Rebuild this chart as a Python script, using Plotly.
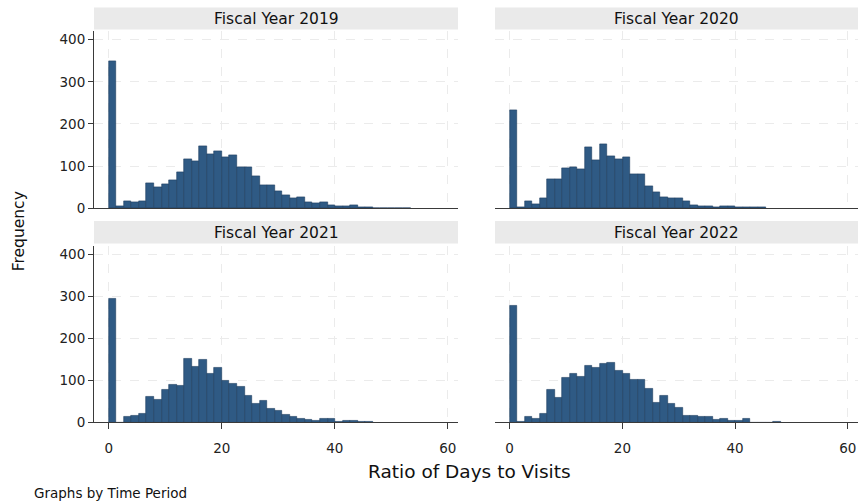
import plotly.graph_objects as go

# Histogram bins: common start and width for all four panels
bin_start = 0.0
bin_width = 1.335

panel_titles = ["Fiscal Year 2019", "Fiscal Year 2020", "Fiscal Year 2021", "Fiscal Year 2022"]

fy2019 = [348, 4, 16, 14, 18, 59, 51, 58, 66, 85, 116, 112, 147, 128, 135, 121, 127, 98, 98, 76,
          56, 56, 41, 30, 23, 26, 15, 12, 14, 8, 5, 5, 7, 3, 2, 0, 0, 1, 1, 1]
fy2020 = [233, 3, 16, 9, 24, 69, 69, 95, 98, 92, 145, 114, 151, 124, 117, 121, 82, 82, 53, 38,
          26, 23, 23, 18, 8, 5, 5, 3, 5, 5, 2, 2, 2, 2]
fy2021 = [295, 0, 13, 17, 20, 61, 55, 78, 90, 87, 152, 132, 150, 116, 130, 99, 91, 84, 64, 45,
          51, 32, 29, 19, 13, 9, 6, 5, 9, 9, 2, 5, 4, 2, 2]
fy2022 = [278, 2, 14, 10, 21, 79, 58, 106, 115, 109, 134, 129, 139, 141, 124, 116, 102, 102, 80, 47,
          63, 45, 34, 16, 17, 13, 13, 7, 9, 3, 3, 9, 0, 0, 0, 2]

x_ticks = [0, 20, 40, 60]
y_ticks = [0, 100, 200, 300, 400]

W, H = 859, 503
bar_fill = "#2f5a84"
bar_edge = "#1d3d5e"
grid_col = "#ebebeb"
axis_col = "#3a3a3a"
font_family = "DejaVu Sans, Liberation Sans, Arial, sans-serif"

# panel layout in pixels: (left, right, top-of-plot, baseline, strip top, strip bottom)
panels = [
    (94, 458, 31.7, 211.7, 7.5, 30),
    (495, 858, 31.7, 211.7, 7.5, 30),
    (94, 458, 249.7, 429.3, 224.5, 247.5),
    (495, 858, 249.7, 429.3, 224.5, 247.5),
]
series = [fy2019, fy2020, fy2021, fy2022]

fig = go.Figure()
shapes = []
annotations = []

for i, (counts, (l, r, t, b, st, sb)) in enumerate(zip(series, panels)):
    n = i + 1
    xa = "x" if n == 1 else f"x{n}"
    ya = "y" if n == 1 else f"y{n}"
    centers = [bin_start + (k + 0.5) * bin_width for k in range(len(counts))]
    fig.add_trace(go.Bar(
        x=centers, y=counts, width=bin_width,
        marker=dict(color=bar_fill, line=dict(color=bar_edge, width=0.6)),
        xaxis=xa, yaxis=ya, showlegend=False,
    ))
    left_col = n in (1, 3)
    bottom_row = n in (3, 4)
    xkey = "xaxis" if n == 1 else f"xaxis{n}"
    ykey = "yaxis" if n == 1 else f"yaxis{n}"
    fig.layout[xkey] = dict(
        domain=[l / W, r / W], anchor=ya, range=[-2.6, 61.8],
        tickvals=x_ticks, showticklabels=bottom_row,
        ticks="outside" if bottom_row else "", ticklen=6, tickcolor=axis_col,
        ticklabelstandoff=7,
        showline=True, linecolor=axis_col, linewidth=1,
        showgrid=True, gridcolor=grid_col, griddash="dash", gridwidth=1,
        zeroline=False, fixedrange=True,
        tickfont=dict(size=13.5, color="#222", family=font_family),
    )
    fig.layout[ykey] = dict(
        domain=[(H - b) / H, (H - t) / H], anchor=xa, range=[0, 420],
        tickvals=y_ticks, showticklabels=left_col,
        ticks="outside" if left_col else "", ticklen=5, tickcolor=axis_col,
        showline=left_col, linecolor=axis_col, linewidth=1,
        showgrid=True, gridcolor=grid_col, griddash="dash", gridwidth=1,
        zeroline=False, fixedrange=True,
        tickfont=dict(size=13.5, color="#222", family=font_family),
    )
    # panel strip header
    shapes.append(dict(type="rect", xref="paper", yref="paper",
                       x0=l / W, x1=r / W, y0=(H - sb) / H, y1=(H - st) / H,
                       fillcolor="#eaeaea", line=dict(width=0), layer="below"))
    annotations.append(dict(text=panel_titles[i], xref="paper", yref="paper",
                            x=(l + r) / 2 / W, y=(H - (st + sb) / 2 - 1) / H,
                            showarrow=False, xanchor="center", yanchor="middle",
                            font=dict(size=15.5, color="#111", family=font_family)))

annotations.append(dict(text="Frequency", xref="paper", yref="paper",
                        x=19 / W, y=1 - 235 / H, textangle=-90, showarrow=False,
                        xanchor="center", yanchor="middle",
                        font=dict(size=15.5, color="#111", family=font_family)))
annotations.append(dict(text="Ratio of Days to Visits", xref="paper", yref="paper",
                        x=469.5 / W, y=1 - 479 / H, showarrow=False,
                        xanchor="center", yanchor="middle",
                        font=dict(size=18.5, color="#111", family=font_family)))
annotations.append(dict(text="Graphs by Time Period", xref="paper", yref="paper",
                        x=32 / W, y=1 - 501 / H, showarrow=False,
                        xanchor="left", yanchor="middle",
                        font=dict(size=13.5, color="#111", family=font_family)))

fig.update_layout(
    width=W, height=H, margin=dict(l=0, r=0, t=0, b=0),
    paper_bgcolor="white", plot_bgcolor="white",
    bargap=0, shapes=shapes, annotations=annotations,
    font=dict(family=font_family),
)

fig.write_html("out.html", config={"displayModeBar": False})
